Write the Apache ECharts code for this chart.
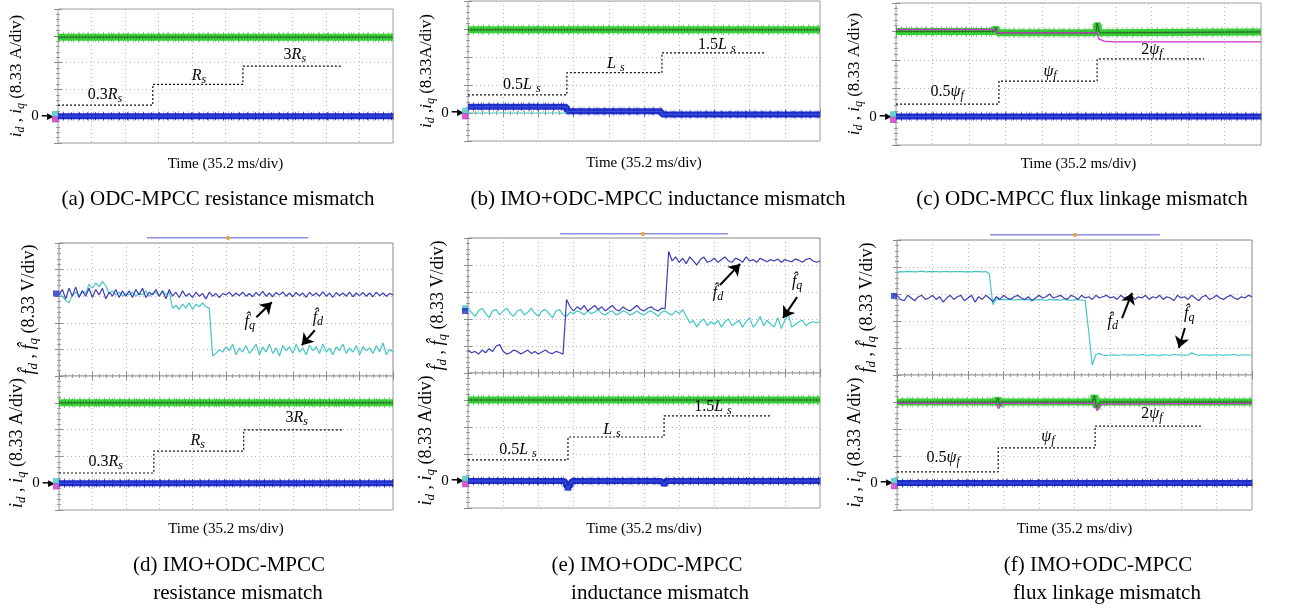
<!DOCTYPE html>
<html><head><meta charset="utf-8">
<script src="https://cdn.jsdelivr.net/npm/echarts@6/dist/echarts.min.js"></script>
<style>html,body{margin:0;padding:0;background:#fff}#c{width:1293px;height:611px}</style>
</head><body><div id="c"></div>
<script>
// ---------------- DATA (values in oscilloscope divisions) ----------------
// sample positions for the estimator traces: 0 .. 10 div, every 0.1 div
const tS = []; for (let i = 0; i <= 100; i++) tS.push(i / 10);

// (a) ODC-MPCC resistance mismatch
const greenA = [[0, 2.95], [10, 2.95]];
const blueA = [[0, 0], [10, 0]];
const stepAx = [0, 2.83, 5.52, 8.48];
const stepAy = [0.41, 1.19, 1.87, 1.87];

// (b) IMO+ODC-MPCC inductance mismatch
const greenB = [[0, 2.97], [10, 2.97]];
const blueB = [[0, 0.22], [2.81, 0.22], [2.81, 0.06], [5.5, 0.06], [5.5, -0.05], [10, -0.05]];
const cyanB = [[0, 0], [2.81, 0]];
const stepBx = [0, 2.81, 5.51, 8.47];
const stepBy = [0.65, 1.44, 2.15, 2.15];

// (c) ODC-MPCC flux linkage mismatch
const greenC = [[0, 3.0], [2.7, 3.0], [2.73, 3.15], [2.78, 2.95], [5.48, 2.95], [5.51, 3.3], [5.57, 2.95], [10, 2.98]];
const magC = [[0, 3.07], [2.7, 3.07], [2.78, 2.95], [5.5, 2.95], [5.56, 2.74], [5.7, 2.66], [6.0, 2.63], [10, 2.63]];
const blueC = [[0, 0], [10, 0]];
const stepCx = [0, 2.82, 5.51, 8.44];
const stepCy = [0.44, 1.25, 2.03, 2.03];

// (d) IMO+ODC-MPCC resistance mismatch
const greenD = [[0, 3.0], [10, 3.0]];
const blueD = [[0, 0], [10, 0]];
const stepDx = [0, 2.84, 5.53, 8.49];
const stepDy = [0.38, 1.2, 1.99, 1.99];
const fBlueD = [
  3.05, 3.25, 2.9, 3.3, 3.0, 3.35, 2.95, 3.2, 3.0, 3.3,
  2.95, 3.25, 3.05, 3.3, 2.9, 3.15, 3.0, 3.25, 2.95, 3.2,
  3.0, 3.2, 2.95, 3.25, 3.05, 3.3, 2.95, 3.15, 3.05, 3.25,
  3.0, 3.2, 2.9, 3.25, 3.0, 3.15, 2.95, 3.2, 3.0, 3.1,
  2.95, 3.15, 3.0, 3.1, 2.9, 3.15, 3.0, 3.1, 2.95, 3.1,
  3.05, 3.15, 3.0, 3.12, 3.02, 3.15, 3.0, 3.1, 2.98, 3.14,
  3.02, 3.18, 3.0, 3.12, 2.98, 3.14, 3.04, 3.16, 3.0, 3.12,
  2.98, 3.14, 3.02, 3.12, 2.96, 3.15, 3.02, 3.12, 3.0, 3.16,
  3.0, 3.12, 2.96, 3.14, 3.02, 3.12, 3.0, 3.15, 2.98, 3.12,
  3.02, 3.14, 3.0, 3.12, 2.98, 3.15, 3.02, 3.12, 3.0, 3.1,
  3.05];
const fCyanD = [
  3.1, 3.0, 2.85, 2.75, 3.05, 3.15, 3.0, 3.2, 3.1, 3.45,
  3.3, 3.5, 3.35, 3.55, 3.4, 3.1, 3.2, 3.05, 3.15, 3.0,
  3.1, 3.05, 3.15, 3.0, 3.1, 3.05, 3.2, 3.0, 3.1, 3.15,
  3.0, 3.2, 3.05, 3.15, 2.55, 2.65, 2.5, 2.7, 2.55, 2.75,
  2.5, 2.7, 2.6, 2.75, 2.6, 2.55, 0.75, 0.85, 1.0, 0.9,
  1.1, 0.95, 1.2, 0.8, 1.05, 0.9, 1.15, 0.85, 1.0, 1.2,
  0.8, 1.1, 0.9, 1.2, 0.85, 1.05, 0.75, 1.15, 0.95, 1.1,
  0.85, 1.2, 0.9, 1.05, 0.8, 1.15, 0.95, 1.1, 0.85, 1.2,
  0.9, 1.05, 0.8, 1.1, 0.95, 1.2, 0.85, 1.05, 0.9, 1.15,
  0.8, 1.1, 0.95, 1.05, 0.85, 1.15, 0.9, 1.25, 0.8, 1.0,
  0.9];

// (e) IMO+ODC-MPCC inductance mismatch
const greenE = [[0, 3.0], [10, 3.0]];
const blueE = [[0, 0], [2.75, 0], [2.84, -0.3], [2.95, 0], [5.5, 0], [5.57, -0.15], [5.65, 0], [10, 0]];
const stepEx = [0, 2.84, 5.57, 8.58];
const stepEy = [0.78, 1.63, 2.41, 2.41];
const fBlueE = [
  0.85, 0.75, 0.8, 0.7, 0.85, 0.75, 0.9, 0.8, 1.0, 1.05,
  0.8, 0.7, 0.75, 0.85, 0.8, 0.7, 0.78, 0.85, 0.72, 0.8,
  0.7, 0.78, 0.85, 0.75, 0.72, 0.8, 0.76, 0.7, 2.72, 2.45,
  2.3, 2.45, 2.35, 2.5, 2.3, 2.4, 2.5, 2.35, 2.45, 2.3,
  2.4, 2.5, 2.35, 2.3, 2.45, 2.35, 2.3, 2.4, 2.5, 2.35,
  2.3, 2.4, 2.45, 2.35, 2.3, 2.4, 2.38, 4.5, 4.15, 4.3,
  4.1, 4.25, 4.05, 4.3, 4.15, 4.0, 4.2, 4.3, 4.1, 4.15,
  4.25, 4.1, 4.2, 4.3, 4.15, 4.1, 4.25, 4.2, 4.1, 4.3,
  4.15, 4.2, 4.1, 4.25, 4.18, 4.12, 4.2, 4.15, 4.22, 4.1,
  4.2, 4.15, 4.12, 4.22, 4.18, 4.1, 4.2, 4.25, 4.15, 4.1,
  4.15];
const fCyanE = [
  2.35, 2.25, 2.1, 2.3, 2.4, 2.2, 2.05, 2.3, 2.35, 2.15,
  2.3, 2.4, 2.2, 2.1, 2.3, 2.35, 2.15, 2.25, 2.4, 2.2,
  2.1, 2.3, 2.35, 2.2, 2.05, 2.3, 2.35, 2.15, 2.1, 2.25,
  2.2, 2.3, 2.25, 2.15, 2.3, 2.2, 2.25, 2.35, 2.2, 2.15,
  2.25, 2.3, 2.15, 2.2, 2.3, 2.25, 2.15, 2.2, 2.3, 2.2,
  2.15, 2.25, 2.3, 2.2, 2.1, 2.25, 2.3, 2.2, 2.15, 2.3,
  2.2, 2.35, 2.1, 1.85, 1.95, 1.7, 1.9, 2.0, 1.75, 1.9,
  1.8, 1.95, 1.7, 1.9, 2.0, 1.75, 1.85, 1.95, 1.7, 1.9,
  2.05, 1.7, 1.85, 2.1, 1.75, 1.95, 1.8, 1.7, 2.05, 1.65,
  1.95, 2.15, 1.7, 1.8, 1.9, 1.95, 1.75, 1.85, 1.9, 1.85,
  1.9];

// (f) IMO+ODC-MPCC flux linkage mismatch
const greenF = [[0, 3.0], [2.8, 3.0], [2.84, 3.15], [2.9, 2.9], [2.95, 3.0], [5.52, 3.0], [5.56, 3.25], [5.62, 2.8], [5.72, 3.0], [10, 3.0]];
const magF = [[0, 2.95], [2.8, 2.95], [2.86, 2.75], [2.95, 2.95], [5.55, 2.95], [5.64, 2.68], [5.75, 2.92], [10, 2.95]];
const blueF = [[0, 0], [10, 0]];
const stepFx = [0, 2.85, 5.58, 8.56];
const stepFy = [0.41, 1.3, 2.11, 2.11];
const fCyanF = [
  3.82, 3.83, 3.82, 3.84, 3.83, 3.82, 3.83, 3.85, 3.82, 3.83,
  3.84, 3.83, 3.82, 3.83, 3.84, 3.82, 3.83, 3.83, 3.84, 3.82,
  3.83, 3.82, 3.84, 3.83, 3.82, 3.83, 3.75, 2.6, 2.82, 2.78,
  2.8, 2.78, 2.8, 2.77, 2.8, 2.79, 2.78, 2.8, 2.77, 2.78,
  2.8, 2.78, 2.76, 2.8, 2.78, 2.79, 2.77, 2.8, 2.78, 2.76,
  2.78, 2.8, 2.77, 2.76, 1.6, 0.37, 0.75, 0.8, 0.74, 0.72,
  0.74, 0.75, 0.73, 0.74, 0.76, 0.73, 0.74, 0.75, 0.73, 0.76,
  0.74, 0.73, 0.75, 0.74, 0.72, 0.75, 0.74, 0.73, 0.76, 0.74,
  0.75, 0.73, 0.74, 0.82, 0.76, 0.73, 0.74, 0.75, 0.73, 0.74,
  0.75, 0.74, 0.73, 0.75, 0.74, 0.76, 0.73, 0.74, 0.75, 0.74,
  0.74];
const fBlueF = [
  2.95, 2.8, 2.75, 2.95, 2.85, 2.75, 2.9, 2.95, 2.8, 2.85,
  2.95, 2.8, 2.9, 2.7, 2.85, 2.95, 2.8, 2.9, 2.95, 2.75,
  2.85, 2.95, 2.7, 2.9, 2.8, 2.95, 2.85, 2.72, 2.9, 2.8,
  2.95, 2.85, 2.8, 2.9, 2.95, 2.85, 2.8, 2.9, 2.75, 2.85,
  2.95, 2.85, 2.9, 3.0, 2.85, 2.9, 2.95, 2.85, 2.8, 2.95,
  2.9, 2.8, 2.95, 2.85, 2.9, 2.8, 2.95, 2.85, 2.9, 2.95,
  2.85, 2.9, 2.8, 2.95, 2.85, 2.9, 2.95, 2.8, 2.9, 2.85,
  2.95, 2.8, 2.9, 2.85, 2.95, 2.8, 2.9, 2.85, 2.75, 2.95,
  2.85, 2.9, 2.8, 2.95, 2.85, 2.75, 2.9, 2.95, 2.8, 2.85,
  2.95, 2.85, 2.8, 2.9, 2.95, 2.85, 2.8, 2.9, 2.85, 2.95,
  2.9];

// channel reference markers (probe offsets) at the left edge
const chanI = [[0, 0.08], [0, -0.12]];
const chanFD = [[0, 3.1]];
const chanFE = [[0, 2.4], [0, 2.3]];
const chanFF = [[0, 2.93]];

// ---------------- STYLE / LAYOUT ----------------
const FONT = 'Liberation Serif';
const C_GREEN = '#38d238', C_BLUE = '#1f2fc8', C_CYAN = '#45c6c6', C_DBLUE = '#3d3db4', C_MAG = '#cc33cc';
function rich(fs) {
  return {
    n: { fontFamily: FONT, fontSize: fs, color: '#000', lineHeight: fs + 4 },
    i: { fontFamily: FONT, fontSize: fs, fontStyle: 'italic', color: '#000', lineHeight: fs + 4 },
    s: { fontFamily: FONT, fontSize: Math.round(fs * 0.72), fontStyle: 'italic', color: '#000', verticalAlign: 'bottom' },
    z: { fontFamily: FONT, fontSize: 15, color: '#000' },
    a: { fontFamily: 'DejaVu Sans', fontSize: 9, color: '#000' }
  };
}
const I_NAME = '{i|i}{s|d}{n| , }{i|i}{s|q}{n| (8.33 A/div)}';
const I_NAME_B = '{i|i}{s|d}{n| ,}{i|i}{s|q}{n| (8.33A/div)}';
const F_NAME = '{i|f\u0302}{s|d}{n| , }{i|f\u0302}{s|q}{n| (8.33 V/div)}';
const TIME = 'Time (35.2 ms/div)';

const grids = [], xAxes = [], yAxes = [], series = [];

function mkX(gi, pos, main, name, gap) {
  return {
    gridIndex: gi, type: 'value', position: pos, min: 0, max: 10, interval: 1,
    axisLine: { show: false }, axisLabel: { show: false },
    axisTick: { show: true, inside: true, length: 4, lineStyle: { color: '#8c8c8c' } },
    minorTick: { show: true, splitNumber: 5, length: 2, lineStyle: { color: '#9c9c9c' } },
    splitLine: { show: main, lineStyle: { color: '#b9b9b9', type: [1, 3] } },
    name: name || '', nameLocation: 'middle', nameGap: gap || 12,
    nameTextStyle: { fontFamily: FONT, fontSize: 15, color: '#000' }
  };
}
function mkY(gi, pos, main, p) {
  const isI = p.kind === 'i';
  return {
    gridIndex: gi, type: 'value', position: pos, min: isI ? -1 : 0, max: isI ? 4 : 5, interval: 1,
    axisLine: { show: false },
    axisTick: { show: true, inside: true, length: 4, lineStyle: { color: '#8c8c8c' } },
    minorTick: { show: true, splitNumber: 5, length: 2, lineStyle: { color: '#9c9c9c' } },
    splitLine: { show: main, lineStyle: { color: '#b9b9b9', type: [1, 3] } },
    axisLabel: {
      show: main && isI, margin: 4,
      formatter: v => (v === 0 ? '{z|0}{a| \u2501\u25B6}' : ''),
      rich: rich(15)
    },
    name: main ? (p.yName || '') : '', nameLocation: 'middle', nameRotate: 90, nameGap: p.nameGap || 30,
    nameTextStyle: { rich: rich(p.yfs || 16), fontFamily: FONT, fontSize: p.yfs || 16, color: '#000' }
  };
}
function addPanel(p) {
  const gi = grids.length;
  grids.push({ left: p.left, top: p.top, width: p.width, height: p.height, show: true,
    borderColor: p.kind === 'f' ? '#8a8a8a' : '#a0a0a0', borderWidth: 1, backgroundColor: '#fff' });
  const xi = xAxes.length;
  xAxes.push(mkX(gi, 'bottom', true, p.xName, p.xGap), mkX(gi, 'top', false));
  const yi = yAxes.length;
  yAxes.push(mkY(gi, 'left', true, p), mkY(gi, 'right', false, p));
  return { gi, xi, yi };
}
function base(P) {
  return { type: 'line', xAxisIndex: P.xi, yAxisIndex: P.yi, symbol: 'none', silent: true, animation: false };
}
function band(P, data, kind) {
  const out = [];
  if (kind === 'green') {
    out.push(Object.assign(base(P), { data, z: 2, lineStyle: { width: 11, type: [1, 4], color: 'rgba(40,130,40,0.4)', cap: 'butt' } }));
    out.push(Object.assign(base(P), { data, z: 2, lineStyle: { width: 7, color: C_GREEN } }));
    out.push(Object.assign(base(P), { data, z: 2, lineStyle: { width: 9, type: [1, 7], dashOffset: 3, color: 'rgba(60,200,60,0.8)', cap: 'butt' } }));
    out.push(Object.assign(base(P), { data, z: 2, lineStyle: { width: 3, type: [1, 2], color: 'rgba(30,110,30,0.6)', cap: 'butt' } }));
    out.push(Object.assign(base(P), { data, z: 2, lineStyle: { width: 1, color: '#355f35' } }));
  } else {
    out.push(Object.assign(base(P), { data, z: 2, lineStyle: { width: 10, type: [1, 4], color: 'rgba(40,55,200,0.35)', cap: 'butt' } }));
    out.push(Object.assign(base(P), { data, z: 2, lineStyle: { width: 6, color: C_BLUE } }));
    out.push(Object.assign(base(P), { data, z: 2, lineStyle: { width: 8, type: [1, 7], dashOffset: 3, color: 'rgba(20,30,190,0.8)', cap: 'butt' } }));
    out.push(Object.assign(base(P), { data, z: 2, lineStyle: { width: 1, color: '#3d55e6' } }));
  }
  return out;
}
function thin(P, data, color, w) {
  return Object.assign(base(P), { data, z: 3, lineStyle: { width: w || 1.2, color } });
}
function labelsMP(list, fs) {
  return {
    symbol: 'rect', symbolSize: 1, itemStyle: { color: 'rgba(0,0,0,0)' }, silent: true, animation: false,
    label: { show: true, position: 'inside', rich: rich(fs) },
    data: list.map(l => ({ coord: l.c, label: { formatter: l.t } }))
  };
}
function stair(P, xs, ys, labels) {
  return Object.assign(base(P), {
    data: xs.map((x, i) => [x, ys[i]]), step: 'end', z: 5,
    lineStyle: { color: '#111', width: 1.2, type: [2, 2] },
    markPoint: labelsMP(labels, 16)
  });
}
function ftrace(P, vals, color, arrows, labels) {
  const s = Object.assign(base(P), { data: tS.map((x, i) => [x, vals[i]]), z: 4, lineStyle: { width: 1.2, color } });
  if (arrows) s.markLine = {
    symbol: ['none', 'arrow'], symbolSize: 11, silent: true, animation: false,
    lineStyle: { color: '#000', width: 2, type: 'solid' }, label: { show: false },
    data: arrows.map(a => [{ coord: a[0] }, { coord: a[1] }])
  };
  if (labels) s.markPoint = labelsMP(labels, 16);
  return s;
}
function marks(P, data, colors) {
  return {
    type: 'scatter', xAxisIndex: P.xi, yAxisIndex: P.yi, symbol: 'rect', symbolSize: [6, 6], symbolOffset: [-3, 0],
    clip: false, silent: true, animation: false, z: 6,
    data: data.map((d, i) => ({ value: d, itemStyle: { color: colors[i] } }))
  };
}

// ---- top row ----
const PA = addPanel({ left: 58, top: 9, width: 335, height: 134, kind: 'i', xName: TIME, xGap: 14, yName: I_NAME, nameGap: 31, yfs: 17 });
series.push(...band(PA, greenA, 'green'), ...band(PA, blueA, 'blue'),
  stair(PA, stepAx, stepAy, [{ c: [1.4, 0.78], t: '{n|0.3}{i|R}{s|s}' }, { c: [4.21, 1.49], t: '{i|R}{s|s}' }, { c: [7.07, 2.28], t: '{n|3}{i|R}{s|s}' }]),
  marks(PA, chanI, [C_CYAN, C_MAG]));

const PB = addPanel({ left: 468, top: 1, width: 352, height: 140, kind: 'i', xName: TIME, xGap: 15, yName: I_NAME_B, nameGap: 31, yfs: 17 });
series.push(...band(PB, greenB, 'green'), thin(PB, cyanB, C_CYAN, 1.2), ...band(PB, blueB, 'blue'),
  stair(PB, stepBx, stepBy, [{ c: [1.53, 1.01], t: '{n|0.5}{i|L }{s|s}' }, { c: [4.2, 1.76], t: '{i|L }{s|s}' }, { c: [7.07, 2.44], t: '{n|1.5}{i|L }{s|s}' }]),
  marks(PB, chanI, [C_CYAN, C_MAG]));

const PC = addPanel({ left: 896, top: 3, width: 365, height: 142, kind: 'i', xName: TIME, xGap: 12, yName: I_NAME, nameGap: 31, yfs: 17 });
series.push(...band(PC, greenC, 'green'), thin(PC, magC, C_MAG, 1.3), ...band(PC, blueC, 'blue'),
  stair(PC, stepCx, stepCy, [{ c: [1.4, 0.87], t: '{n|0.5}{i|\u03C8}{s|f}' }, { c: [4.22, 1.57], t: '{i|\u03C8}{s|f}' }, { c: [7.01, 2.35], t: '{n|2}{i|\u03C8}{s|f}' }]),
  marks(PC, chanI, [C_CYAN, C_MAG]));

// ---- bottom row ----
const FDL = '{i|f\u0302}{s|d}', FQL = '{i|f\u0302}{s|q}';
const PDU = addPanel({ left: 59, top: 243, width: 334, height: 133, kind: 'f', yName: F_NAME, nameGap: 19, yfs: 18 });
const PDL = addPanel({ left: 59, top: 376, width: 334, height: 134, kind: 'i', xName: TIME, xGap: 12, yName: I_NAME, nameGap: 19, yfs: 18 });
series.push(
  ftrace(PDU, fCyanD, C_CYAN, [[[7.66, 1.72], [7.27, 1.16]]], [{ c: [7.75, 2.17], t: FDL }]),
  ftrace(PDU, fBlueD, C_DBLUE, [[[5.91, 2.21], [6.37, 2.77]]], [{ c: [5.71, 2.02], t: FQL }]),
  marks(PDU, chanFD, [C_BLUE]),
  ...band(PDL, greenD, 'green'), ...band(PDL, blueD, 'blue'),
  stair(PDL, stepDx, stepDy, [{ c: [1.4, 0.79], t: '{n|0.3}{i|R}{s|s}' }, { c: [4.15, 1.57], t: '{i|R}{s|s}' }, { c: [7.12, 2.43], t: '{n|3}{i|R}{s|s}' }]),
  marks(PDL, chanI, [C_CYAN, C_MAG]));

const PEU = addPanel({ left: 468, top: 238, width: 352, height: 135, kind: 'f', yName: F_NAME, nameGap: 19, yfs: 18 });
const PEL = addPanel({ left: 468, top: 373, width: 352, height: 135, kind: 'i', xName: TIME, xGap: 14, yName: I_NAME, nameGap: 19, yfs: 18 });
series.push(
  ftrace(PEU, fCyanE, C_CYAN, [[[9.35, 2.81], [8.95, 2.04]]], [{ c: [9.35, 3.37], t: FQL }]),
  ftrace(PEU, fBlueE, C_DBLUE, [[[7.16, 3.26], [7.73, 4.04]]], [{ c: [7.1, 2.96], t: FDL }]),
  marks(PEU, chanFE, [C_CYAN, C_BLUE]),
  ...band(PEL, greenE, 'green'), ...band(PEL, blueE, 'blue'),
  stair(PEL, stepEx, stepEy, [{ c: [1.42, 1.15], t: '{n|0.5}{i|L }{s|s}' }, { c: [4.09, 1.89], t: '{i|L }{s|s}' }, { c: [6.96, 2.74], t: '{n|1.5}{i|L }{s|s}' }]),
  marks(PEL, chanI, [C_CYAN, C_MAG]));

const PFU = addPanel({ left: 897, top: 240, width: 355, height: 135, kind: 'f', yName: F_NAME, nameGap: 19, yfs: 18 });
const PFL = addPanel({ left: 897, top: 375, width: 355, height: 135, kind: 'i', xName: TIME, xGap: 12, yName: I_NAME, nameGap: 19, yfs: 18 });
series.push(
  ftrace(PFU, fCyanF, C_CYAN, [[[8.11, 1.74], [7.94, 1.0]]], [{ c: [8.23, 2.26], t: FQL }]),
  ftrace(PFU, fBlueF, C_DBLUE, [[[6.34, 2.11], [6.62, 3.04]]], [{ c: [6.08, 1.96], t: FDL }]),
  marks(PFU, chanFF, [C_BLUE]),
  ...band(PFL, greenF, 'green'), thin(PFL, magF, C_MAG, 1.2), ...band(PFL, blueF, 'blue'),
  stair(PFL, stepFx, stepFy, [{ c: [1.3, 0.93], t: '{n|0.5}{i|\u03C8}{s|f}' }, { c: [4.25, 1.7], t: '{i|\u03C8}{s|f}' }, { c: [7.18, 2.56], t: '{n|2}{i|\u03C8}{s|f}' }]),
  marks(PFL, chanI, [C_CYAN, C_MAG]));

// ---- captions & scope decorations ----
function cap(x, y, t, fs) {
  return { type: 'text', x, y, silent: true, style: { text: t, fontFamily: FONT, fontSize: fs || 21, fill: '#000', align: 'center', verticalAlign: 'middle' } };
}
function topBar(x1, x2, y, cx) {
  return [
    { type: 'rect', silent: true, shape: { x: x1, y, width: x2 - x1, height: 1.5 }, style: { fill: '#8f8fe6' } },
    { type: 'circle', silent: true, shape: { cx, cy: y + 1, r: 2 }, style: { fill: '#e8a030' } }
  ];
}
const graphic = [
  cap(218, 199, '(a) ODC-MPCC resistance mismatch'),
  cap(658, 199, '(b) IMO+ODC-MPCC inductance mismatch'),
  cap(1082, 199, '(c) ODC-MPCC flux linkage mismatch'),
  cap(229, 565, '(d) IMO+ODC-MPCC'), cap(238, 593, 'resistance mismatch'),
  cap(647, 565, '(e) IMO+ODC-MPCC'), cap(660, 593, 'inductance mismatch'),
  cap(1098, 565, '(f) IMO+ODC-MPCC'), cap(1107, 593, 'flux linkage mismatch'),
  ...topBar(147, 308, 237, 228), ...topBar(560, 728, 233, 643), ...topBar(990, 1160, 234, 1075)
];

const chart = echarts.init(document.getElementById('c'), null, { renderer: 'canvas' });
chart.setOption({
  animation: false, backgroundColor: '#fff',
  grid: grids, xAxis: xAxes, yAxis: yAxes, series, graphic
});
</script></body></html>
